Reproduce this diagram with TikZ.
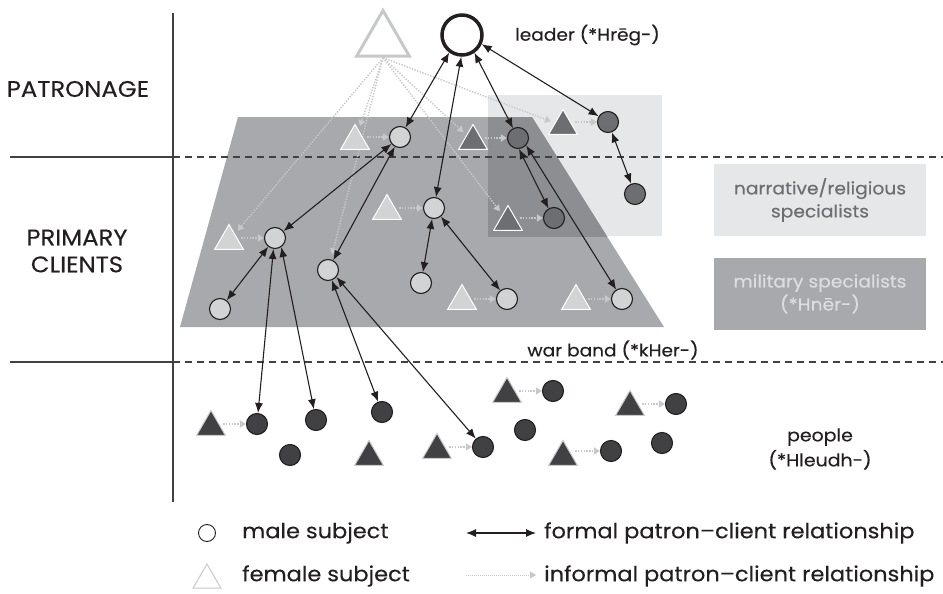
\documentclass[tikz,border=0pt]{standalone}
\usepackage{fontspec}
\setmainfont{Poppins}[FakeStretch=1.08,FakeBold=0.3]
\usetikzlibrary{arrows.meta,shapes.geometric}
\pgfdeclarelayer{bgl}
\pgfdeclarelayer{edg}
\pgfsetlayers{bgl,edg,main}
\definecolor{trap}{HTML}{A7A9AC}
\definecolor{lbox}{HTML}{E6E7E8}
\definecolor{over}{HTML}{8C8E91}
\definecolor{lcirc}{HTML}{D1D3D4}
\definecolor{mcirc}{HTML}{6D6E71}
\definecolor{dcirc}{HTML}{414042}
\definecolor{dotc}{HTML}{C7C8CA}
\definecolor{ink}{HTML}{231F20}
\definecolor{milt}{HTML}{DCDDDE}
\begin{document}
\begin{tikzpicture}[x=1pt,y=-1pt,
  male/.style={circle,draw=ink,line width=1.1pt,minimum size=21pt,inner sep=0pt},
  lmale/.style={male,fill=lcirc},
  mmale/.style={male,fill=mcirc},
  dmale/.style={male,fill=dcirc},
  fem/.style={regular polygon,regular polygon sides=3,minimum size=33pt,inner sep=0pt,line width=1pt},
  lfem/.style={fem,fill=lcirc,draw=white},
  mfem/.style={fem,fill=mcirc,draw=white},
  dfem/.style={fem,fill=dcirc,draw=dotc},
  formal/.style={draw=ink,line width=1.1pt,{Latex[length=10pt,width=8pt]}-{Latex[length=10pt,width=8pt]}},
  informal/.style={draw=dotc,line width=1.4pt,dash pattern=on 1.4pt off 1.4pt,-{Triangle[length=6pt,width=7pt]}},
  divider/.style={draw=dcirc,line width=1.4pt},
  dashline/.style={draw=dcirc,line width=1.2pt,dash pattern=on 7pt off 5pt},
  lbl/.style={text=ink,inner sep=0pt,font=\fontsize{17.2}{20}\selectfont},
  head/.style={text=ink,inner sep=0pt,align=center,font=\fontsize{22.5}{27}\selectfont},
  leg/.style={text=ink,inner sep=0pt,anchor=west,font=\fontsize{20.8}{24}\selectfont}
]
\useasboundingbox (0,0) rectangle (943,594);
\begin{pgfonlayer}{bgl}
  \fill[lbox] (488,95) rectangle (662,236);
  \fill[trap] (238,117) -- (532,117) -- (664,327) -- (180,327) -- cycle;
  \begin{scope}
    \clip (488,95) rectangle (662,236);
    \fill[over] (238,117) -- (532,117) -- (664,327) -- (180,327) -- cycle;
  \end{scope}
  \fill[lbox] (714,164) rectangle (926,236);
  \fill[trap] (714,258) rectangle (926,330);
  \draw[divider] (173,13) -- (173,502);
  \draw[divider] (10,157) -- (173,157);
  \draw[divider] (10,362) -- (173,362);
  \draw[dashline] (173,157) -- (943,157);
  \draw[dashline] (173,362) -- (943,362);
\end{pgfonlayer}

% top
\node[fem,minimum size=61pt,draw=dotc,fill=white,line width=3pt] (bigT) at (383,41) {};
\node[circle,draw=ink,fill=white,line width=3.5pt,minimum size=40pt,inner sep=0pt] (leader) at (462,35) {};

% primary clients
\node[lmale] (A) at (400,137) {};
\node[lfem] (tA) at (355,141) {};
\node[mmale] (B) at (518,138) {};
\node[mfem] (tB) at (473,141) {};
\node[mmale] (C) at (608,122) {};
\node[mfem] (tC) at (563,126) {};
\node[mmale] (D) at (635,194) {};
\node[mmale] (E) at (554,218) {};
\node[mfem] (tE) at (508,222) {};
\node[lmale] (F) at (434,208) {};
\node[lfem] (tF) at (387,211) {};
\node[lmale] (G) at (275,238) {};
\node[lfem] (tG) at (229,241) {};
\node[lmale] (H) at (328,270) {};
\node[lmale] (I) at (220,309) {};
\node[lmale] (J) at (421,283) {};
\node[lmale] (K) at (507,299) {};
\node[lfem] (tK) at (462,301) {};
\node[lmale] (L) at (622,299) {};
\node[lfem] (tL) at (576,301) {};

% people
\node[dmale] (p1) at (257,424) {};
\node[dfem] (q1) at (211,427) {};
\node[dmale] (p2) at (316,420) {};
\node[dmale] (p3) at (290,455) {};
\node[dmale] (p4) at (382,412) {};
\node[dfem] (q4) at (369,457) {};
\node[dmale] (p5) at (483,447) {};
\node[dfem] (q5) at (437,450) {};
\node[dmale] (p6) at (553,391) {};
\node[dfem] (q6) at (507,394) {};
\node[dmale] (p7) at (525,430) {};
\node[dmale] (p8) at (611,451) {};
\node[dfem] (q8) at (563,457) {};
\node[dmale] (p9) at (676,404) {};
\node[dfem] (q9) at (630,407) {};
\node[dmale] (p10) at (662,443) {};

% labels
\node[head] (patr) at (78,89) {PATRONAGE};
\node[head] (prim) at (77,251) {PRIMARY\\CLIENTS};
\node[lbl,anchor=west] (lead) at (515,35) {leader (*Hrēg-)};
\node[lbl] (warb) at (613,350) {war band (*kHer-)};
\node[lbl,align=center,font=\fontsize{17.5}{25}\selectfont] (peop) at (820,449) {people\\(*Hleudh-)};
\node[lbl,align=center,text=mcirc,font=\fontsize{17.3}{23}\selectfont] (narr) at (820,200) {narrative/religious\\specialists};
\node[lbl,align=center,text=milt,font=\fontsize{17.3}{23}\selectfont] (milit) at (820,294) {military specialists\\(*Hnēr-)};

% legend
\node[circle,draw=ink,fill=white,line width=0.9pt,minimum size=17pt,inner sep=0pt] (lm) at (207,533) {};
\node[fem,minimum size=32pt,draw=dotc,fill=white,line width=1pt] (lf) at (207,580) {};
\node[leg] (lmt) at (242,533) {male subject};
\node[leg] (lft) at (242,576) {female subject};
\coordinate (fa1) at (466,533);
\coordinate (fa2) at (536,533);
\coordinate (ia1) at (466,575);
\coordinate (ia2) at (536,575);
\node[leg] (lfo) at (544,533) {formal patron–client relationship};
\node[leg] (lin) at (544,576) {informal patron–client relationship};

\begin{pgfonlayer}{edg}
  % informal from big triangle
  \draw[informal,shorten >=4pt] (bigT.south) -- (tA);
  \draw[informal,shorten >=4pt] (bigT.south) -- (tG);
  \draw[informal,shorten >=5pt] (bigT.south) -- (H);
  \draw[informal,shorten >=4pt] (bigT.south) -- (tB);
  \draw[informal,shorten >=4pt] (bigT.south) -- (tE);
  \draw[informal,shorten >=4pt] (bigT.south) -- (tC);
  % informal short
  \foreach \t/\c in {tA/A,tB/B,tC/C,tE/E,tF/F,tG/G,tK/K,tL/L,q1/p1,q5/p5,q6/p6,q8/p8,q9/p9}
    \draw[informal,shorten <=2pt] (\t.east |- \c) -- (\c);
  % formal
  \draw[formal] (leader.234) -- (A);
  \draw[formal] (leader.268) -- (F);
  \draw[formal] (leader.305) -- (B);
  \draw[formal] (leader.335) -- (C);
  \draw[formal] (A) -- (G);
  \draw[formal] (A) -- (H);
  \draw[formal] (G) -- (I);
  \draw[formal] (F) -- (J);
  \draw[formal] (F) -- (K);
  \draw[formal] (B.275) -- (E.120);
  \draw[formal] (B.318) -- (L);
  \draw[formal] (C) -- (D);
  \draw[formal] (G.262) -- (p1);
  \draw[formal] (G.305) -- (p2);
  \draw[formal] (H) -- (p4);
  \draw[formal] (H.320) -- (p5);
  % legend arrows
  \draw[formal] (fa1) -- (fa2);
  \draw[informal,line width=1pt,dash pattern=on 1pt off 1pt] (ia1) -- (ia2);
\end{pgfonlayer}
\end{tikzpicture}
\end{document}
